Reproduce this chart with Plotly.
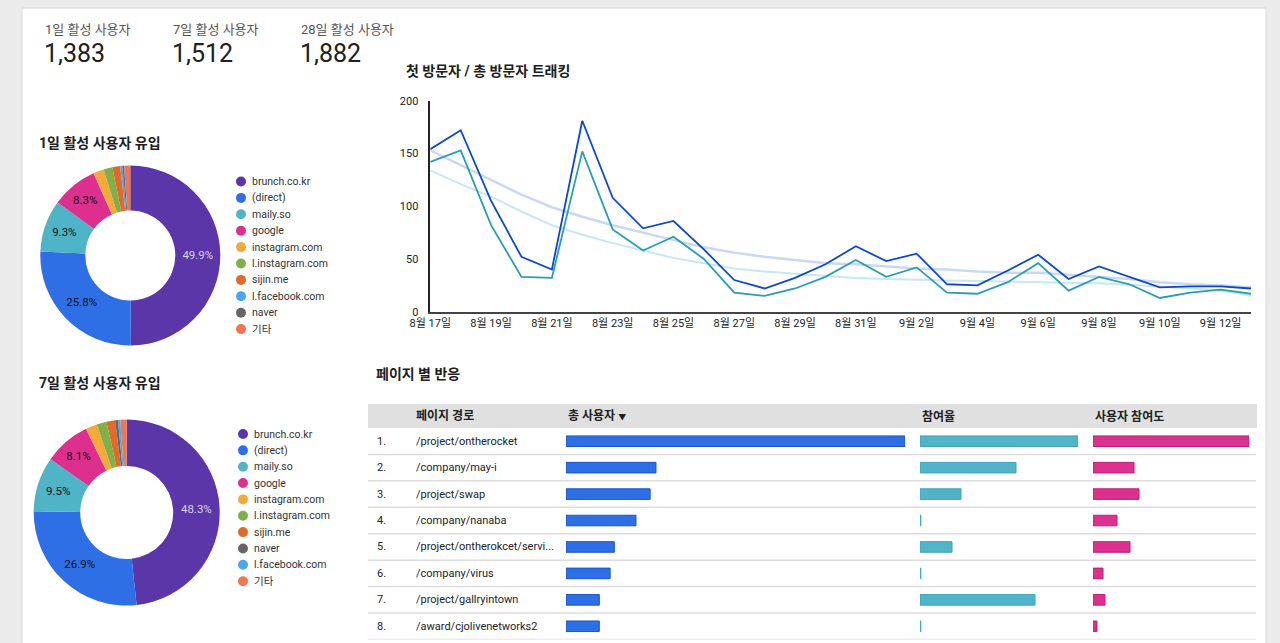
import plotly.graph_objects as go
import pandas as pd

W, H = 1280, 643
FONT = "Roboto, 'Noto Sans CJK KR', sans-serif"


def px(x):
    return x / W


def py(y):
    return 1 - y / H


# ---------------- data ----------------
kpi_labels = ["1일 활성 사용자", "7일 활성 사용자", "28일 활성 사용자"]
kpi_values = [1383, 1512, 1882]

src1_labels = ["brunch.co.kr", "(direct)", "maily.so", "google", "instagram.com",
               "l.instagram.com", "sijin.me", "l.facebook.com", "naver", "기타"]
src1_values = [49.9, 25.8, 9.3, 8.3, 1.9, 1.6, 1.4, 0.4, 0.3, 1.1]

src2_labels = ["brunch.co.kr", "(direct)", "maily.so", "google", "instagram.com",
               "l.instagram.com", "sijin.me", "naver", "l.facebook.com", "기타"]
src2_values = [48.3, 26.9, 9.5, 8.1, 2.0, 1.7, 1.5, 0.5, 0.4, 1.1]

dates = pd.date_range("2023-08-17", "2023-09-13", freq="D")
total_visitors = [154, 172, 105, 52, 40, 181, 108, 79, 86, 59, 30, 22, 32, 45,
                  62, 48, 55, 26, 25, 39, 54, 31, 43, 33, 23, 24, 24, 22]
first_visitors = [142, 153, 82, 33, 32, 152, 78, 58, 71, 50, 18, 15, 22, 33,
                  49, 33, 42, 18, 17, 28, 46, 20, 33, 26, 13, 18, 21, 17]
total_trend = [153, 139, 125, 111, 99, 90, 82, 75, 68, 61, 56, 52, 49, 46,
               45, 43, 41, 40, 38, 37, 37, 35, 33, 31, 28, 26, 25, 23]
first_trend = [134, 121, 109, 95, 82, 73, 65, 58, 51, 46, 41, 38, 36, 34,
               32, 31, 30, 29.5, 29, 28.5, 28, 27.5, 27, 25.5, 24, 22, 20, 15]

table_headers = ["페이지 경로", "총 사용자 ▾", "참여율", "사용자 참여도"]
page_ranks = ["1.", "2.", "3.", "4.", "5.", "6.", "7.", "8."]
page_paths = ["/project/ontherocket", "/company/may-i", "/project/swap",
              "/company/nanaba", "/project/ontherokcet/servi...", "/company/virus",
              "/project/gallryintown", "/award/cjolivenetworks2"]
page_users = [407, 108, 101, 84, 58, 53, 40, 40]
page_engagement_rate = [0.79, 0.48, 0.205, 0.004, 0.16, 0.004, 0.575, 0.004]
page_engagement = [312, 82, 92, 48, 74, 20, 24, 8]

source_colors = {
    "brunch.co.kr": "#5a36a8", "(direct)": "#2f6fe6", "maily.so": "#4fb4c8",
    "google": "#dc2f8e", "instagram.com": "#f4aa3b", "l.instagram.com": "#7fb04a",
    "sijin.me": "#e2692a", "l.facebook.com": "#4aa6ee", "naver": "#666666",
    "기타": "#ef7652",
}

fig = go.Figure()


# ---------------- donuts ----------------
def add_donut(labels, values, cx, cy, r, name):
    colors = [source_colors[l] for l in labels]
    tmpl = ["%{percent:.1%}" if v >= 5 else "" for v in values]
    tcol = ["#d8d4e8" if i == 0 else "#111111" for i in range(len(values))]
    fig.add_trace(go.Pie(
        labels=labels, values=values, name=name, hole=0.5, sort=False,
        direction="clockwise", rotation=0,
        marker=dict(colors=colors, line=dict(width=0)),
        texttemplate=tmpl, textposition="inside", insidetextorientation="horizontal",
        textfont=dict(family=FONT, size=11.5, color=tcol),
        domain=dict(x=[px(cx - r), px(cx + r)], y=[py(cy + r), py(cy - r)]),
        showlegend=False, hoverinfo="label+percent",
    ))


add_donut(src1_labels, src1_values, 130.3, 255.5, 90, "1일")
add_donut(src2_labels, src2_values, 126.7, 512.5, 93, "7일")

# ---------------- line chart ----------------
fig.add_trace(go.Scatter(x=dates, y=total_trend, mode="lines",
                         line=dict(color="#c9d8f6", width=2.5), showlegend=False,
                         xaxis="x", yaxis="y", hoverinfo="skip"))
fig.add_trace(go.Scatter(x=dates, y=first_trend, mode="lines",
                         line=dict(color="#c6e9f1", width=2), showlegend=False,
                         xaxis="x", yaxis="y", hoverinfo="skip"))
fig.add_trace(go.Scatter(x=dates, y=first_visitors, mode="lines", name="첫 방문자",
                         line=dict(color="#2a9db3", width=1.8), showlegend=False,
                         xaxis="x", yaxis="y"))
fig.add_trace(go.Scatter(x=dates, y=total_visitors, mode="lines", name="총 방문자",
                         line=dict(color="#0b48cf", width=1.8), showlegend=False,
                         xaxis="x", yaxis="y"))

# ---------------- table bars ----------------
bar_specs = [
    ("x2", page_users, "#2f6fe6", "#1a55cc"),
    ("x3", page_engagement_rate, "#52b4c8", "#3fa4b9"),
    ("x4", page_engagement, "#dd3190", "#c21d79"),
]
for ax, vals, col, lcol in bar_specs:
    fig.add_trace(go.Bar(x=vals, y=page_paths, orientation="h", xaxis=ax, yaxis="y2",
                         marker=dict(color=col, line=dict(color=lcol, width=1)),
                         width=0.4, showlegend=False))

# ---------------- shapes ----------------
shapes = [
    dict(type="rect", xref="paper", yref="paper", x0=px(22), x1=px(1266),
         y0=-0.02, y1=py(8), fillcolor="white", line=dict(color="#d6d6d6", width=1),
         layer="below"),
    dict(type="rect", xref="paper", yref="paper", x0=px(368), x1=px(1257),
         y0=py(428), y1=py(404), fillcolor="#e0e0e0", line=dict(width=0), layer="below"),
]
for i in range(len(page_paths)):
    shapes.append(dict(type="line", xref="paper", yref="y2", x0=px(368), x1=px(1256),
                       y0=i + 0.5, y1=i + 0.5, line=dict(color="#dcdcdc", width=1.5),
                       layer="below"))

# ---------------- annotations ----------------
ann = []
kpi_x = [43, 171, 299]
for lab, val, x in zip(kpi_labels, kpi_values, kpi_x):
    ann.append(dict(text=lab, x=px(x), y=py(29), xref="paper", yref="paper",
                    xanchor="left", yanchor="middle", showarrow=False,
                    font=dict(family=FONT, size=13, color="#555555")))
    ann.append(dict(text=f"{val:,}", x=px(x - 1), y=py(53), xref="paper", yref="paper",
                    xanchor="left", yanchor="middle", showarrow=False,
                    font=dict(family=FONT, size=25, color="#202020")))

titles = [("1일 활성 사용자 유입", 37, 143), ("7일 활성 사용자 유입", 37, 383),
          ("첫 방문자 / 총 방문자 트래킹", 404, 71), ("페이지 별 반응", 374, 374)]
for t, x, y in titles:
    ann.append(dict(text=f"<b>{t}</b>", x=px(x), y=py(y), xref="paper", yref="paper",
                    xanchor="left", yanchor="middle", showarrow=False,
                    font=dict(family=FONT, size=14, color="#202020")))


def add_legend(labels, dot_x, y0, step):
    for i, lab in enumerate(labels):
        yy = y0 + i * step
        shapes.append(dict(type="circle", xref="paper", yref="paper",
                           x0=px(dot_x - 5), x1=px(dot_x + 5), y0=py(yy + 5), y1=py(yy - 5),
                           fillcolor=source_colors[lab], line=dict(width=0)))
        ann.append(dict(text=lab, x=px(dot_x + 9), y=py(yy), xref="paper", yref="paper",
                        xanchor="left", yanchor="middle", showarrow=False,
                        font=dict(family=FONT, size=10.5, color="#333333")))


add_legend(src1_labels, 241, 181.5, 16.4)
add_legend(src2_labels, 243, 434, 16.35)

header_x = [414, 566, 920, 1093]
for h, x in zip(table_headers, header_x):
    txt = f"<b>{h}</b>" if "▾" not in h else "<b>총 사용자</b> <span style='font-size:8px'>▼</span>"
    ann.append(dict(text=txt, x=px(x), y=py(416), xref="paper", yref="paper",
                    xanchor="left", yanchor="middle", showarrow=False,
                    font=dict(family=FONT, size=12, color="#202020")))

for rank, path in zip(page_ranks, page_paths):
    ann.append(dict(text=rank, x=px(375), y=path, xref="paper", yref="y2",
                    xanchor="left", yanchor="middle", showarrow=False,
                    font=dict(family=FONT, size=11, color="#222222")))
    ann.append(dict(text=path, x=px(414), y=path, xref="paper", yref="y2",
                    xanchor="left", yanchor="middle", showarrow=False,
                    font=dict(family=FONT, size=11, color="#222222")))

fig.update_layout(
    width=W, height=H, margin=dict(l=0, r=0, t=0, b=0, pad=0, autoexpand=False),
    paper_bgcolor="#ebebeb", plot_bgcolor="rgba(0,0,0,0)",
    font=dict(family=FONT, size=11, color="#333333"),
    shapes=shapes, annotations=ann, bargap=0.6,
    xaxis=dict(domain=[px(430.3), px(1251)], type="date",
               range=[dates[0], dates[-1]], tick0=dates[0], dtick=2 * 86400000,
               tickformat="%-m월 %-d일", showgrid=False, zeroline=False,
               showline=True, linecolor="#444444", linewidth=1.5, ticks="",
               tickfont=dict(size=11, color="#222222"), anchor="y", automargin=False),
    yaxis=dict(domain=[py(311.7), py(100.7)], range=[0, 200], dtick=50,
               showgrid=False, zeroline=False, showline=True, linecolor="#222222",
               linewidth=1.5, ticks="", ticklabelstandoff=8, automargin=False,
               tickfont=dict(size=11, color="#222222"), anchor="x"),
    xaxis2=dict(domain=[px(566), px(905)], range=[0, max(page_users)], visible=False,
                anchor="y2", automargin=False),
    xaxis3=dict(domain=[px(920), px(1078)], range=[0, max(page_engagement_rate)],
                visible=False, anchor="y2", automargin=False),
    xaxis4=dict(domain=[px(1093), px(1249)], range=[0, max(page_engagement)],
                visible=False, anchor="y2", automargin=False),
    yaxis2=dict(domain=[py(639.5), py(428)], type="category",
                categoryorder="array", categoryarray=page_paths, automargin=False,
                range=[len(page_paths) - 0.5, -0.5], visible=False, anchor="x2"),
)

fig.write_html(
    "out.html",
    config={"displayModeBar": False},
    post_script="document.body.style.margin='0px';document.body.style.background='#ebebeb';",
)
